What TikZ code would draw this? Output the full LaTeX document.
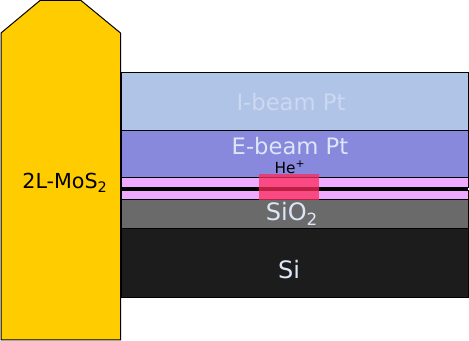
\documentclass[tikz,border=0pt]{standalone}
\usepackage{fontspec}
\setmainfont{DejaVu Sans}
\definecolor{ibeam}{HTML}{B0C4E8}
\definecolor{ebeam}{HTML}{8888DD}
\definecolor{pinklayer}{HTML}{EEAAFF}
\definecolor{oxide}{HTML}{6A6A6A}
\definecolor{silicon}{HTML}{1C1C1C}
\definecolor{mos}{HTML}{FFCC00}
\definecolor{ionspot}{HTML}{FF2A5A}
\definecolor{lighttext}{HTML}{DCE6F8}
\definecolor{ibeamtext}{HTML}{CCD8F0}
\begin{document}
\begin{tikzpicture}[x=0.75pt,y=-0.75pt,
  layer/.style={draw=black,line width=0.75pt},
  bigtext/.style={font=\fontsize{17}{20}\selectfont,text=lighttext,inner sep=0pt},
  ]
\useasboundingbox (0,0) rectangle (469,341);
% layers
\draw[layer,fill=ibeam] (121,72.5) rectangle (468,131);
\draw[layer,fill=ebeam] (121,131) rectangle (468,178);
\fill[black] (121,188) rectangle (468,190.5);
\draw[layer,fill=pinklayer] (121,178) rectangle (468,188);
\draw[layer,fill=pinklayer] (121,190.5) rectangle (468,200);
\draw[layer,fill=oxide] (121,200) rectangle (468,229);
\draw[layer,fill=silicon] (121,229) rectangle (468,298);
% ion spot
\fill[ionspot,opacity=0.75] (259,174) rectangle (319,200);
% MoS2 flake
\draw[fill=mos,line width=0.75pt] (1,33) -- (40,0.5) -- (81,0.5) -- (120.5,33) -- (120.5,340) -- (1,340) -- cycle;
% labels
\node[bigtext,text=ibeamtext] (ib) at (291,102) {I-beam Pt};
\node[bigtext] (eb) at (290,146) {E-beam Pt};
\node[font=\fontsize{11.5}{13}\selectfont,inner sep=0pt] (he) at (290,167.5) {He\textsuperscript{+}};
\node[bigtext,font=\fontsize{18}{21}\selectfont] (sio) at (292,214) {SiO\textsubscript{2}};
\node[bigtext,font=\fontsize{18}{21}\selectfont] (si) at (289,270) {Si};
\node[font=\fontsize{15.5}{18}\selectfont,inner sep=0pt] (mo) at (65,183) {2L-MoS\textsubscript{2}};
\end{tikzpicture}
\end{document}
